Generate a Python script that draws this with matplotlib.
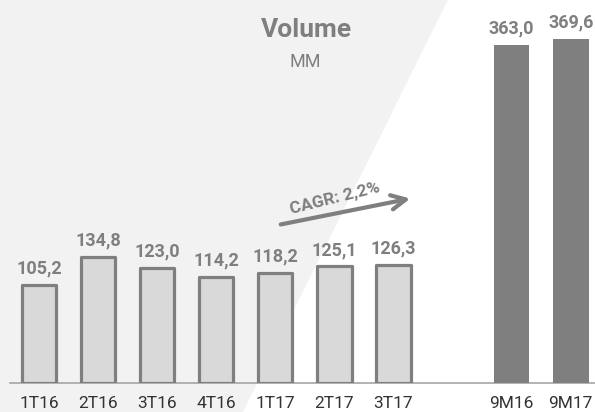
import matplotlib.pyplot as plt
from matplotlib.patches import Polygon

plt.rcParams['font.family'] = ['Roboto', 'DejaVu Sans']

categories = ['1T16', '2T16', '3T16', '4T16', '1T17', '2T17', '3T17', '9M16', '9M17']
values = [105.2, 134.8, 123.0, 114.2, 118.2, 125.1, 126.3, 363.0, 369.6]
value_labels = ['105,2', '134,8', '123,0', '114,2', '118,2', '125,1', '126,3', '363,0', '369,6']
positions = [0, 1, 2, 3, 4, 5, 6, 8, 9]
cagr_label = 'CAGR: 2,2%'

W, H = 595, 412
fig = plt.figure(figsize=(W / 100, H / 100), dpi=100)
fig.patch.set_facecolor('white')

# light grey diagonal band in the background
bg = Polygon([(0, 1), (448 / W, 1), (243 / W, 0), (0, 0)], closed=True,
             transform=fig.transFigure, facecolor='#f2f2f2', edgecolor='none', zorder=-5)
fig.patches.append(bg)

base = 383
ax = fig.add_axes([0, (H - base) / H, 1, base / H])
ax.set_zorder(2)
ax.set_facecolor('none')
ax.set_xlim(-0.66, 9.41)
ax.set_ylim(0, base / 0.932)
ax.axis('off')

for i, (p, v, lab) in enumerate(zip(positions, values, value_labels)):
    if i < 7:
        ax.bar(p, v, width=0.58, color='#d9d9d9', edgecolor='#7f7f7f', linewidth=2.3,
               joinstyle='round', zorder=3)
    else:
        ax.bar(p, v, width=0.6, color='#7f7f7f', edgecolor='none', zorder=3)
    ax.text(p, v + 8, lab, ha='center', va='bottom', fontsize=13, fontweight='bold',
            color='#7f7f7f', zorder=4)
    ax.text(p, -21.5, categories[i], ha='center', va='center', fontsize=12.5,
            color='#333333', clip_on=False)

ax.plot([-0.49, 9.41], [0, 0], color='#a6a6a6', lw=1.2, zorder=2, clip_on=False)

# title
fig.text(306 / W, 1 - 30 / H, 'Volume', ha='center', va='center', fontsize=19,
         fontweight='bold', color='#7f7f7f', zorder=5)
fig.text(305 / W, 1 - 62 / H, 'MM', ha='center', va='center', fontsize=13,
         color='#7f7f7f', zorder=5)

# CAGR arrow
ax.annotate('', xy=(413 / W, 1 - 198 / H), xytext=(278 / W, 1 - 225 / H),
            xycoords='figure fraction', textcoords='figure fraction',
            arrowprops=dict(arrowstyle='->', color='#7f7f7f', lw=3,
                            mutation_scale=26, capstyle='round'))
ax.text(335 / W, 1 - 199 / H, cagr_label, ha='center', va='center', fontsize=12.5,
        fontweight='bold', color='#7f7f7f', rotation=14, rotation_mode='anchor',
        transform=fig.transFigure)

fig.savefig('out.png', dpi=100)
